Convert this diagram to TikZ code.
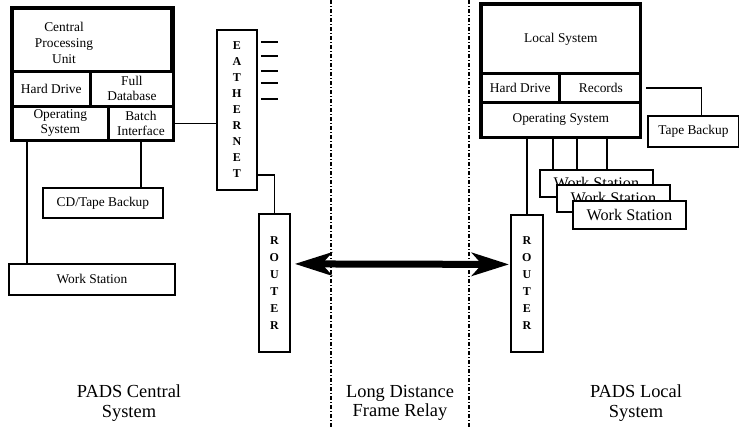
\documentclass[tikz,border=0pt]{standalone}
\usepackage{fontspec}
\setmainfont{Liberation Serif}
\usetikzlibrary{arrows.meta,positioning,fit,calc}

\begin{document}
\begin{tikzpicture}[x=0.5pt, y=-0.5pt, >={Stealth[length=18.5pt, width=11.5pt, inset=5pt]}]
        % Styles des noeuds
        \tikzstyle{cell} = [rectangle, draw, line width=0.8pt, fill=white, inner sep=0.5pt, align=center, anchor=north west, font=\fontsize{6.7}{7.5}\selectfont]
        \tikzstyle{frame} = [draw, line width=1.6pt, inner sep=0pt]
        \tikzstyle{unit} = [rectangle, draw, line width=0.9pt, fill=white, inner sep=0.5pt, align=center, anchor=north west, font=\fontsize{6.7}{7.5}\selectfont]
        \tikzstyle{tower} = [unit, font=\fontsize{6}{8}\selectfont\bfseries]
        \tikzstyle{ws} = [unit, minimum width=56.5pt, minimum height=13.5pt, font=\fontsize{8.1}{9}\selectfont]
        \tikzstyle{link} = [line width=0.9pt]
        \tikzstyle{zone} = [font=\fontsize{9.2}{9.6}\selectfont, align=center]
        \tikzstyle{border} = [line width=0.6pt, dash pattern=on 2pt off 1pt on 0.5pt off 1pt]

        \useasboundingbox (0,0) rectangle (739,429);

        % Systeme central
        \node[cell, minimum width=79pt, minimum height=31pt] (cpu) at (12,8) {};
        \node[cell, draw=none, fill=none, anchor=center, font=\fontsize{6.7}{8.2}\selectfont] (cpulabel) at (64,43) {Central\\Processing\\Unit};
        \node[cell, minimum width=38.5pt, minimum height=16.5pt] (hd) at (cpu.south west) {Hard Drive};
        \node[cell, minimum width=40.5pt, minimum height=16.5pt] (db) at (hd.north east) {Full\\Database};
        \node[cell, minimum width=47.5pt, minimum height=16.5pt] (os) at (hd.south west) {Operating\\System};
        \node[cell, minimum width=31.5pt, minimum height=16.5pt] (batch) at (os.north east) {Batch\\Interface};
        \node[frame, fit=(cpu)(batch)] (central) {};

        \node[unit, minimum width=60pt, minimum height=15pt] (cd) at (42,187) {CD/Tape Backup};
        \node[unit, minimum width=83pt, minimum height=15.5pt] (wsL) at (8,263) {Work Station};

        % Ethernet et routeur
        \node[tower, minimum width=20pt, minimum height=80pt] (eth) at (216,29) {E\\A\\T\\H\\E\\R\\N\\E\\T};
        \node[tower, minimum width=15.5pt, minimum height=69pt, font=\fontsize{6}{8.5}\selectfont\bfseries] (rtrL) at (258,213) {R\\O\\U\\T\\E\\R};
        \foreach \dy in {13,27,42,54,70}
            \draw[link] ($(eth.north east)+(3,\dy)$) -- ++(17,0);

        % Liaisons cote central
        \draw[link] (batch.east) -- (batch.east -| eth.west);
        \coordinate (ethout) at ($(eth.south east)+(0,-16)$);
        \draw[link] (ethout) -| (rtrL.north);
        \draw[link] (batch.south) -- (batch.south |- cd.north);
        \coordinate (wsin) at ($(wsL.north west)+(19,0)$);
        \draw[link] (wsin |- central.south) -- (wsin);

        % Systeme local
        \node[cell, minimum width=79pt, minimum height=34pt] (local) at (481,4) {Local System};
        \node[cell, minimum width=38.5pt, minimum height=13.5pt] (hd2) at (local.south west) {Hard Drive};
        \node[cell, minimum width=40.5pt, minimum height=13.5pt] (rec) at (hd2.north east) {Records};
        \node[cell, minimum width=79pt, minimum height=17pt] (os2) at (hd2.south west) {Operating System};
        \node[frame, fit=(local)(os2)] (localsys) {};
        \node[unit, minimum width=45.5pt, minimum height=15.5pt] (tape) at (647,115) {Tape Backup};
        \node[tower, minimum width=16pt, minimum height=68.5pt, font=\fontsize{6}{8.5}\selectfont\bfseries] (rtrR) at (510,214) {R\\O\\U\\T\\E\\R};

        \node[ws] (ws1) at (539,169) {Work Station};
        \node[ws] (ws2) at (556,184) {Work Station};
        \node[ws, minimum height=14pt] (ws3) at (572,200) {Work Station};

        % Liaisons cote local
        \coordinate (recout) at ($(rec.east)+(4,0)$);
        \draw[link] (recout) -| ($(tape.north)+(8,0)$);
        \draw[link] (rtrR.north |- localsys.south) -- (rtrR.north);
        \foreach \dx/\name in {14/a,38/b,68/c} {
            \coordinate (w\name) at ($(ws1.north west)+(\dx,0)$);
            \draw[link] (w\name |- localsys.south) -- (w\name);
        }

        % Frontieres et liaison longue distance
        \draw[border] (331,0) -- (331,429);
        \draw[border] (469,0) -- (469,429);
        \draw[<->, line width=3.5pt] ($(rtrL.east)+(4,-19)$) -- ($(rtrR.west)+(-1,-19)$);

        % Legendes
        \node[zone] (centrallabel) at (129,403) {PADS Central\\System};
        \node[zone] (relaylabel) at (400,403) {Long Distance\\Frame Relay};
        \node[zone] (locallabel) at (636,403) {PADS Local\\System};

    \end{tikzpicture}
\end{document}
